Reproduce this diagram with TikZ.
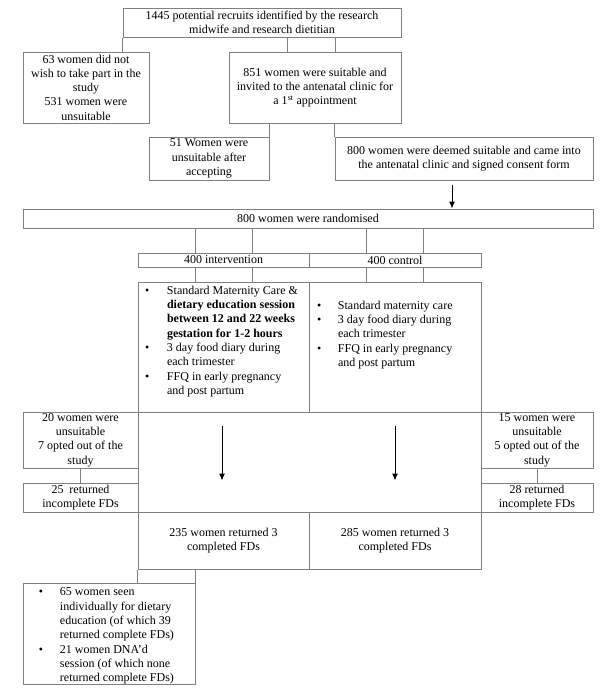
\documentclass[tikz,border=0pt]{standalone}
\usepackage{fontspec}
\setmainfont{Liberation Serif}
\usetikzlibrary{arrows.meta,positioning}
\definecolor{boxline}{gray}{0.5}
\tikzset{%
	process/.style = {draw=boxline, line width=1pt, rectangle, inner sep=0pt, align=center, font=\fontsize{12}{14.3}\selectfont},
	link/.style    = {draw=boxline, line width=1pt},
	arrow/.style   = {line width=1pt, -{Latex[length=7pt,width=6pt]}},
}
\newcommand{\bitem}[3]{\par\noindent\hangindent=#2\hangafter=1\makebox[#2][l]{\hspace{#1}\textbullet}#3}

\begin{document}
\begin{tikzpicture}[x=1pt,y=-1pt]
	\useasboundingbox (0,0) rectangle (600,689);
	
	\node[process, minimum width=278pt, minimum height=29pt] (recruit) at (262,22.5) {1445 potential recruits identified by the research\\midwife and research dietitian};
	\node[process, minimum width=126pt, minimum height=71pt] (declined) at (86,87.5) {63 women did not\\wish to take part in the\\study\\531 women were\\unsuitable};
	\node[process, minimum width=172pt, minimum height=71pt] (invited) at (315,87.5) {851 women were suitable and\\invited to the antenatal clinic for\\a 1\textsuperscript{st} appointment};
	\node[process, minimum width=120pt, minimum height=43pt] (unsuit) at (209,158.5) {51 Women were\\unsuitable after\\accepting};
	\node[process, minimum width=258pt, minimum height=43pt] (consent) at (464,158.5) {800 women were deemed suitable and came into\\the antenatal clinic and signed consent form};
	\node[process, minimum width=570pt, minimum height=19pt] (random) at (308,218.5) {800 women were randomised};
	
	\node[process, minimum width=171pt, minimum height=14pt] (interv) at (223.5,260) {400 intervention};
	\node[process, minimum width=172pt, minimum height=14pt] (control) at (395,260) {400 control};
	
	\node[process] (intcare) at (223.5,347) {\parbox[c][130pt][t]{171pt}{\raggedright\vspace{4pt}%
		\bitem{7pt}{29pt}{Standard Maternity Care \&\newline\textbf{dietary education session}\newline\textbf{between 12 and 22 weeks}\newline\textbf{gestation for 1-2 hours}}%
		\bitem{7pt}{29pt}{3 day food diary during\newline each trimester}%
		\bitem{7pt}{29pt}{FFQ in early pregnancy\newline and post partum}}};
	\node[process] (concare) at (395,347) {\parbox[c][130pt][t]{172pt}{\raggedright\vspace{19pt}%
		\bitem{8pt}{29pt}{Standard maternity care}%
		\bitem{8pt}{29pt}{3 day food diary during\newline each trimester}%
		\bitem{8pt}{29pt}{FFQ in early pregnancy\newline and post partum}}};
	
	\node[process, minimum width=115pt, minimum height=56pt] (dropL) at (80.5,440) {20 women were\\unsuitable\\7 opted out of the\\study};
	\node[process, minimum width=112pt, minimum height=56pt] (dropR) at (537,440) {15 women were\\unsuitable\\5 opted out of the\\study};
	\node[process, minimum width=343pt, minimum height=100pt] (follow) at (309.5,462) {};
	\node[process, minimum width=115pt, minimum height=29pt] (incL) at (80.5,497.5) {25\ \ returned\\incomplete FDs};
	\node[process, minimum width=112pt, minimum height=29pt] (incR) at (537,497.5) {28 returned\\incomplete FDs};
	\node[process, minimum width=171pt, minimum height=57pt] (compL) at (223.5,540.5) {235 women returned 3\\completed FDs};
	\node[process, minimum width=172pt, minimum height=57pt] (compR) at (395,540.5) {285 women returned 3\\completed FDs};
	
	\node[process] (seen) at (109,633.5) {\parbox[c][101pt][t]{172pt}{\raggedright\vspace{5pt}%
		\bitem{16pt}{37pt}{65 women seen\newline individually for dietary\newline education (of which 39\newline returned complete FDs)}%
		\bitem{16pt}{37pt}{21 women DNA’d\newline session (of which none\newline returned complete FDs)}}};
	
	% connectors
	\draw[link] (recruit.south west) -- (recruit.south west |- declined.north);
	\foreach \s in {-28,20} \draw[link] ([xshift=\s pt]invited.north) -- ([xshift=\s pt]invited.north |- recruit.south);
	\draw[link] (unsuit.north east) -- (unsuit.north east |- invited.south);
	\draw[link] (consent.north west) -- (consent.north west |- invited.south);
	\draw[arrow, shorten <=4pt] ([xshift=-12pt]consent.south) -- ([xshift=-12pt]consent.south |- random.north);
	
	\foreach \n/\m in {interv/intcare, control/concare}
		\foreach \s in {-28.5,28.5} {
			\draw[link] ([xshift=\s pt]\n.north) -- ([xshift=\s pt]\n.north |- random.south);
			\draw[link] ([xshift=\s pt]\n.south) -- ([xshift=\s pt]\n.south |- \m.north);
		}
	
	\draw[link] ([xshift=-0.5pt]dropL.south) -- ([xshift=-0.5pt]incL.north);
	\draw[link] (dropR.south) -- (incR.north);
	\draw[arrow, shorten <=13pt, shorten >=31pt] ([xshift=-1.5pt]intcare.south) -- ([xshift=-1.5pt]compL.north);
	\draw[arrow, shorten <=13pt, shorten >=31pt] (concare.south) -- (compR.north);
	
	\draw[link] (compL.south west) -- (compL.south west |- seen.north);
	\draw[link] (seen.north east) -- (seen.north east |- compL.south);
\end{tikzpicture}
\end{document}
